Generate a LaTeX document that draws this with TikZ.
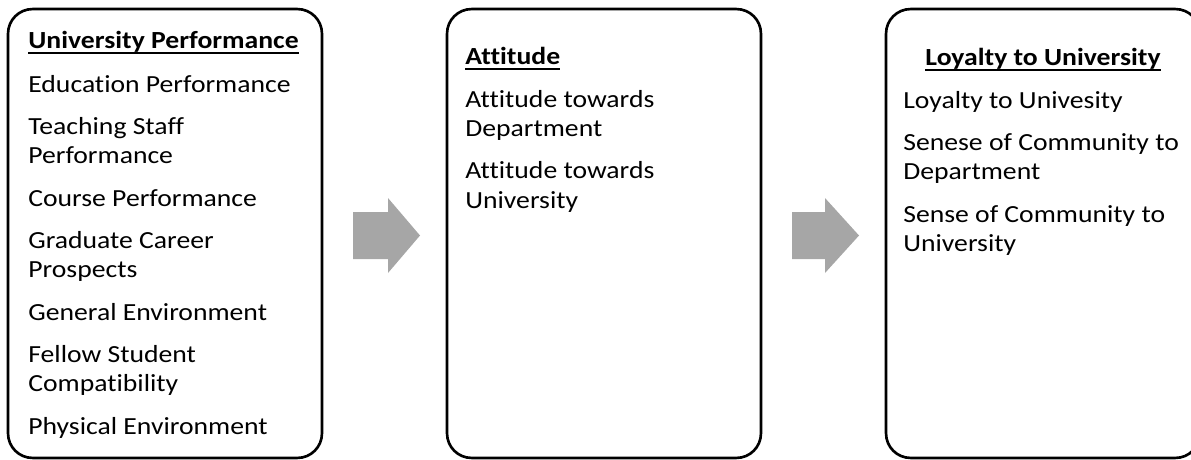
\documentclass[tikz,border=0pt]{standalone}
\usepackage{fontspec}
\setmainfont[Ligatures={NoCommon}, FakeStretch=1.125]{Carlito}
\usetikzlibrary{positioning}

\definecolor{arrowgray}{HTML}{A6A6A6}
\newcommand{\ulhead}[1]{\setbox0\hbox{\bfseries #1}\rlap{\rule[-3.2pt]{\wd0}{0.8pt}}\box0}

\begin{document}
\begin{tikzpicture}[
  x=0.02cm, y=-0.02cm,
  font=\fontsize{14pt}{16.67pt}\selectfont,
  panel/.style={
    draw, line width=1.5pt, rounded corners=14pt,
    minimum width=6.28cm, minimum height=8.98cm,
    inner sep=0pt,
  },
  head/.style={anchor=base west, inner sep=0pt},
  items/.style={anchor=north west, align=left, inner sep=0pt},
  blockarrow/.style={fill=arrowgray, draw=none},
]

\useasboundingbox (0,0) rectangle (1191,460);
\clip (0,0) rectangle (1191,460);

\node[panel] (perf) at (165,233.5) {};
\node[panel] (att) at (604,233.5) {};
\node[panel] (loyal) at (1043,233.5) {};

% panel texts
\node[head] (perf-t) at (28,48) {\ulhead{University Performance}};
\node[items] (perf-b) at (28,70.9) {\rule{0pt}{12pt}Education Performance\\[7.43pt]
  Teaching Staff\\Performance\\[7.43pt]
  Course Performance\\[7.43pt]
  Graduate Career\\Prospects\\[7.43pt]
  General Environment\\[7.43pt]
  Fellow Student\\Compatibility\\[7.43pt]
  Physical Environment};

\node[head] (att-t) at (465,64) {\ulhead{Attitude}};
\node[items] (att-b) at (465,85.9) {\rule{0pt}{12pt}Attitude towards\\Department\\[7.43pt]
  Attitude towards\\University};

\node[head, anchor=base] (loyal-t) at (1043,65) {\ulhead{Loyalty to University}};
\node[items] (loyal-b) at (903,86.9) {\rule{0pt}{12pt}Loyalty to Univesity\\[7.43pt]
  Senese of Community to\\Department\\[7.43pt]
  Sense of Community to\\University};

% block arrows
\fill[blockarrow] (353,212) -- (388,212) -- (388,198) -- (420,235.5)
  -- (388,273) -- (388,259) -- (353,259) -- cycle;
\fill[blockarrow] (792,212) -- (825,212) -- (825,198) -- (859,235.5)
  -- (825,273) -- (825,259) -- (792,259) -- cycle;

\end{tikzpicture}
\end{document}
